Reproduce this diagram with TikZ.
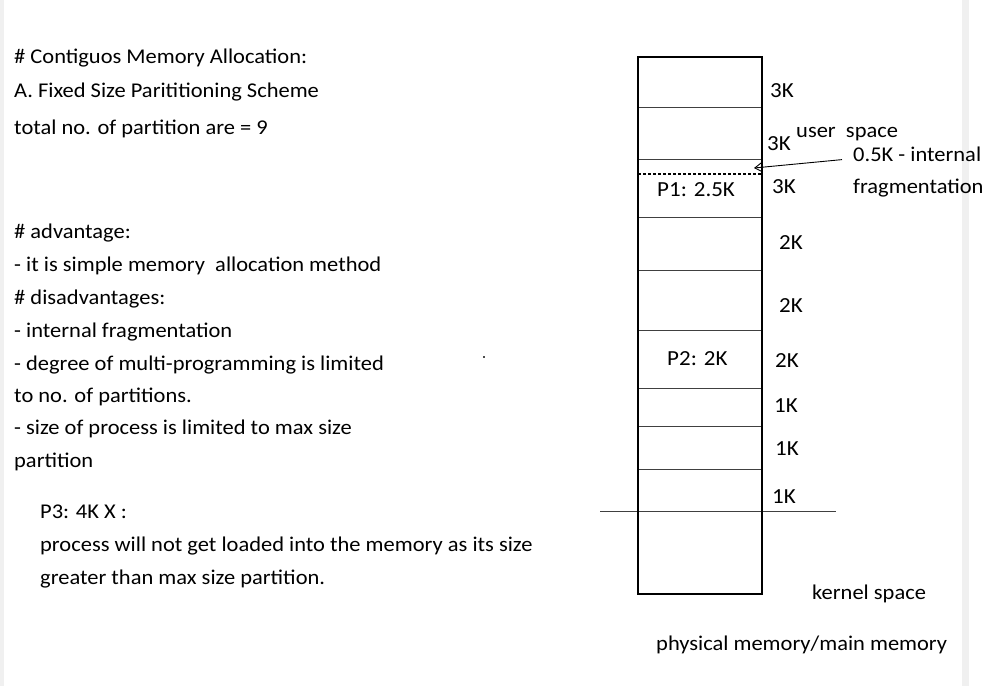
\documentclass[tikz,border=0pt]{standalone}
\usepackage{fontspec}
\setmainfont{Carlito}
\newfontfamily\widefont[FakeStretch=1.07]{Carlito}
\usetikzlibrary{arrows.meta}
\begin{document}
\begin{tikzpicture}[x=1pt,y=-1pt,
  txt/.style={anchor=base west, inner sep=0pt, font=\widefont\fontsize{21}{24}\selectfont, text=black},
  mem/.style={anchor=base west, inner sep=0pt, font=\widefont\fontsize{21.5}{24}\selectfont, text=black},
  divider/.style={draw=black!75, line width=0.9pt},
  boxline/.style={draw=black, line width=2pt}]
\useasboundingbox (0,0) rectangle (996,686);
\fill[white] (0,0) rectangle (996,686);
\fill[black!6] (0,0) rectangle (4,686);
\fill[black!6] (962,0) rectangle (969,686);
% left text
\node[txt] (t1) at (14,63) {\# Contiguos Memory Allocation:};
\node[txt] (t2) at (14,97) {A. Fixed Size Parititioning Scheme};
\node[txt] (t3) at (14,134) {total no. of partition are = 9};
\node[txt] (t4) at (14,238) {\# advantage:};
\node[txt] (t5) at (14,271) {- it is simple memory\ \ allocation method};
\node[txt] (t6) at (14,304) {\# disadvantages:};
\node[txt] (t7) at (14,337) {- internal fragmentation};
\node[txt] (t8) at (14,370) {- degree of multi-programming is limited};
\node[txt] (t9) at (14,402) {to no. of partitions.};
\node[txt] (t10) at (14,434) {- size of process is limited to max size};
\node[txt] (t11) at (14,467) {partition};
\node[txt] (t12) at (40,518) {P3: 4K X :};
\node[txt] (t13) at (40,551) {process will not get loaded into the memory as its size};
\node[txt] (t14) at (40,584) {greater than max size partition.};
\fill[black!70] (483,356) rectangle (485,358);
% memory
\foreach \yy in {107,159,217,270,330,388,426,469} \draw[divider] (638,\yy) -- (762,\yy);
\draw[line width=1.4pt, dash pattern=on 3pt off 2pt] (638,174) -- (762,174);
\draw[divider] (600,511) -- (836,511);
\draw[boxline] (638,57) rectangle (762,594);
\node[mem] (p1) at (657,196) {P1: 2.5K};
\node[mem] (p2) at (667,365) {P2: 2K};
\node[mem] (s1) at (770,97) {3K};
\node[mem] (s2) at (767,150) {3K};
\node[mem] (s3) at (772,193) {3K};
\node[mem] (s4) at (779,249) {2K};
\node[mem] (s5) at (779,312) {2K};
\node[mem] (s6) at (775,367) {2K};
\node[mem] (s7) at (774,412) {1K};
\node[mem] (s8) at (775,455) {1K};
\node[mem] (s9) at (772,503) {1K};
\node[txt] (us) at (796,137) {user\ \ space};
\node[txt] (fr1) at (853,161) {0.5K - internal};
\node[txt] (fr2) at (853,193) {fragmentation};
\node[txt] (ks) at (812,599) {kernel space};
\node[txt] (pm) at (656,650) {physical memory/main memory};
\coordinate (tip) at (754,168);
\draw[line width=0.9pt, -{Straight Barb[length=7pt,width=9pt]}] ([xshift=-11pt,yshift=-1pt]fr1.mid west) -- (tip);
\end{tikzpicture}
\end{document}
